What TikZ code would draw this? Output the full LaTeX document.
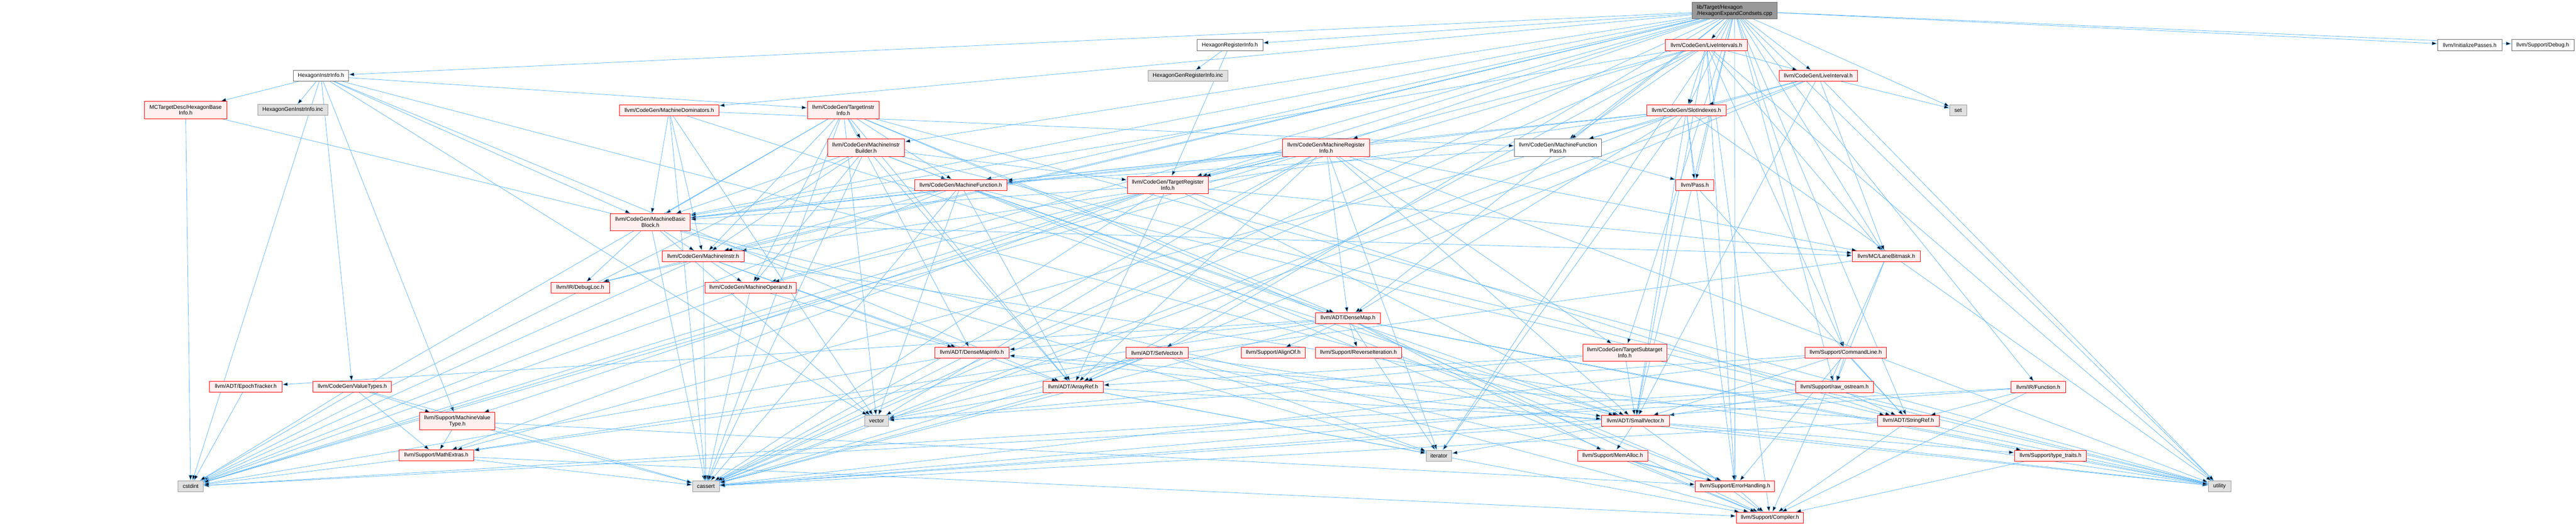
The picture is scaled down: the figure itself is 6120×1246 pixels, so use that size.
\documentclass[tikz,border=0pt]{standalone}
\usepackage{fontspec}
\setmainfont{Liberation Sans}
\usetikzlibrary{arrows.meta}
\definecolor{inclblue}{HTML}{63B8FF}
\definecolor{truncfill}{HTML}{FFF0F0}
\definecolor{sysfill}{HTML}{E0E0E0}
\definecolor{sysline}{HTML}{999999}
\definecolor{rootline}{HTML}{666666}
\pgfdeclarelayer{bg}
\pgfsetlayers{bg,main}
\tikzset{
  hbox/.style={draw, line width=1pt, inner sep=2pt, minimum height=26pt, align=center},
  redbox/.style={hbox, draw=red, fill=truncfill},
  sysbox/.style={hbox, draw=sysline, fill=sysfill},
  whitebox/.style={hbox, draw=rootline, fill=white},
  rootbox/.style={hbox, draw=rootline, fill=sysline, align=left},
  twoline/.style={minimum height=41pt},
  incl/.style={draw=inclblue, line width=1pt, -{Triangle[length=13pt,width=9pt]}}
}

\begin{document}
\begin{tikzpicture}[x=1pt, y=-1pt, font=\fontsize{13}{14.5}\selectfont]
  \useasboundingbox (0,0) rectangle (6120,1246);

  \node[rootbox, minimum width=202pt, minimum height=39pt] (root) at (4121,25.5) {lib/Target/Hexagon\\/HexagonExpandCondsets.cpp};

  \node[whitebox, minimum width=131pt] (hii) at (762.5,180) {HexagonInstrInfo.h};
  \node[redbox, twoline, minimum width=196pt] (hbi) at (441,261) {MCTargetDesc/HexagonBase\\Info.h};
  \node[sysbox, minimum width=167pt] (hgii) at (695.5,261) {HexagonGenInstrInfo.inc};
  \node[sysbox, minimum width=60pt] (cstdint) at (453,1154) {cstdint};
  \node[redbox, minimum width=172pt] (epoch) at (584,918) {llvm/ADT/EpochTracker.h};
  \node[redbox, minimum width=186pt] (vt) at (837,918) {llvm/CodeGen/ValueTypes.h};
  \node[redbox, twoline, minimum width=179pt] (mvt) at (1086.5,999.5) {llvm/Support/MachineValue\\Type.h};
  \node[redbox, minimum width=177pt] (mathx) at (1036.5,1081) {llvm/Support/MathExtras.h};

  \node[redbox, minimum width=236pt] (mdom) at (1590,261.5) {llvm/CodeGen/MachineDominators.h};
  \node[redbox, twoline, minimum width=190pt] (mbb) at (1545,527.5) {llvm/CodeGen/MachineBasic\\Block.h};
  \node[redbox, minimum width=195pt] (mi) at (1670.5,608.5) {llvm/CodeGen/MachineInstr.h};
  \node[redbox, minimum width=139pt] (dloc) at (1378.5,682.5) {llvm/IR/DebugLoc.h};
  \node[redbox, minimum width=217pt] (mop) at (1783.5,682.5) {llvm/CodeGen/MachineOperand.h};
  \node[sysbox, minimum width=64pt] (cassert) at (1677,1154.5) {cassert};

  \node[redbox, twoline, minimum width=171pt] (tii) at (2003.5,261.5) {llvm/CodeGen/TargetInstr\\Info.h};
  \node[redbox, twoline, minimum width=183pt] (mib) at (2057.5,350.5) {llvm/CodeGen/MachineInstr\\Builder.h};
  \node[redbox, minimum width=219pt] (mf) at (2282.5,439) {llvm/CodeGen/MachineFunction.h};
  \node[redbox, minimum width=176pt] (dmi) at (2309,837.5) {llvm/ADT/DenseMapInfo.h};
  \node[redbox, minimum width=143pt] (aref) at (2549.5,918.5) {llvm/ADT/ArrayRef.h};
  \node[sysbox, minimum width=57pt] (vector) at (2082.5,999) {vector};

  \node[whitebox, minimum width=156pt] (hri) at (2922,107) {HexagonRegisterInfo.h};
  \node[sysbox, minimum width=190pt] (hgri) at (2822,180) {HexagonGenRegisterInfo.inc};
  \node[redbox, twoline, minimum width=207pt] (mri) at (3150.5,350.5) {llvm/CodeGen/MachineRegister\\Info.h};
  \node[redbox, twoline, minimum width=193pt] (tri) at (2774.5,439) {llvm/CodeGen/TargetRegister\\Info.h};
  \node[redbox, minimum width=155pt] (dmap) at (3202.5,755.5) {llvm/ADT/DenseMap.h};
  \node[redbox, minimum width=148pt] (setv) at (2749,837.5) {llvm/ADT/SetVector.h};
  \node[redbox, minimum width=152pt] (alignof) at (3025,837.5) {llvm/Support/AlignOf.h};
  \node[redbox, minimum width=205pt] (reviter) at (3227.5,837.5) {llvm/Support/ReverseIteration.h};

  \node[whitebox, twoline, minimum width=207pt] (mfp) at (3701.5,350.5) {llvm/CodeGen/MachineFunction\\Pass.h};
  \node[redbox, twoline, minimum width=200pt] (tsi) at (3860,837) {llvm/CodeGen/TargetSubtarget\\Info.h};
  \node[redbox, minimum width=161pt] (svec) at (3885.5,999) {llvm/ADT/SmallVector.h};
  \node[sysbox, minimum width=61pt] (iterator) at (3418.5,1081.5) {iterator};
  \node[redbox, minimum width=167pt] (memalloc) at (3831.5,1081.5) {llvm/Support/MemAlloc.h};

  \node[redbox, minimum width=194pt] (lis) at (4054,107) {llvm/CodeGen/LiveIntervals.h};
  \node[redbox, minimum width=186pt] (li) at (4320,180) {llvm/CodeGen/LiveInterval.h};
  \node[redbox, minimum width=189pt] (slot) at (4006.5,261.5) {llvm/CodeGen/SlotIndexes.h};
  \node[sysbox, minimum width=40pt] (set) at (4652,261.5) {set};
  \node[redbox, minimum width=91pt] (pass) at (4026.5,439) {llvm/Pass.h};
  \node[redbox, minimum width=161pt] (lane) at (4481.5,608.5) {llvm/MC/LaneBitmask.h};
  \node[redbox, minimum width=194pt] (cl) at (4385,837.5) {llvm/Support/CommandLine.h};
  \node[redbox, minimum width=185pt] (ros) at (4358.5,918.5) {llvm/Support/raw\_ostream.h};
  \node[redbox, minimum width=146pt] (sref) at (4534,999) {llvm/ADT/StringRef.h};
  \node[redbox, minimum width=188pt] (err) at (4122,1154.5) {llvm/Support/ErrorHandling.h};
  \node[redbox, minimum width=160pt] (compiler) at (4205,1228.5) {llvm/Support/Compiler.h};

  \node[redbox, minimum width=129pt] (func) at (4842.5,918.5) {llvm/IR/Function.h};
  \node[redbox, minimum width=171pt] (ttraits) at (4871.5,1081.5) {llvm/Support/type\_traits.h};
  \node[sysbox, minimum width=54pt] (utility) at (5273,1154.5) {utility};
  \node[whitebox, minimum width=153pt] (initp) at (5867.5,107) {llvm/InitializePasses.h};
  \node[whitebox, minimum width=148pt] (debug) at (6041,107) {llvm/Support/Debug.h};

  \begin{pgfonlayer}{bg}
  \path[incl] (root) edge (hii) edge (hri) edge (dmap) edge (setv) edge (svec) edge (sref)
    edge (li) edge (lis) edge (mbb) edge (mdom) edge (mf) edge (mfp) edge (mi) edge (mib)
    edge (mop) edge (mri) edge (slot) edge (tri) edge (tsi) edge (dloc) edge (func)
    edge (initp) edge (lane) edge (pass) edge (cl) edge (debug) edge (err) edge (ros)
    edge (cassert) edge (iterator) edge (set) edge (utility);
  \path[incl] (hii) edge (hbi) edge (hgii) edge (aref) edge (svec) edge (mbb) edge (mvt)
    edge (tii) edge (vt) edge (cstdint) edge (vector);
  \path[incl] (hbi) edge (err) edge (cstdint);
  \path[incl] (hri) edge (tri) edge (hgri);
  \path[incl] (lis) edge (aref) edge (svec) edge (li) edge (mbb) edge (mfp) edge (slot)
    edge (tri) edge (lane) edge (cl) edge (compiler) edge (err) edge (cassert)
    edge (cstdint) edge (utility);
  \path[incl] (li) edge (aref) edge (svec) edge (slot) edge (lane) edge (mathx)
    edge (cassert) edge (set) edge (utility);
  \path[incl] (slot) edge (dmap) edge (svec) edge (mbb) edge (mf) edge (mfp) edge (mi)
    edge (pass) edge (err) edge (cassert) edge (iterator) edge (utility);
  \path[incl] (mfp) edge (mf) edge (pass);
  \path[incl] (mf) edge (aref) edge (dmap) edge (svec) edge (mbb) edge (mi) edge (compiler)
    edge (cassert) edge (cstdint) edge (utility) edge (vector);
  \path[incl] (mbb) edge (mi) edge (dloc) edge (lane) edge (cassert) edge (iterator)
    edge (vector);
  \path[incl] (mi) edge (dmi) edge (mop) edge (dloc) edge (aref) edge (cassert)
    edge (cstdint) edge (utility);
  \path[incl] (mop) edge (dmi) edge (cassert) edge (cstdint);
  \path[incl] (mdom) edge (mbb) edge (mfp) edge (mi) edge (svec) edge (cassert)
    edge (vector);
  \path[incl] (mib) edge (aref) edge (mbb) edge (mf) edge (mi) edge (mop) edge (tri)
    edge (err) edge (cassert) edge (cstdint) edge (utility);
  \path[incl] (tii) edge (aref) edge (dmap) edge (dmi) edge (mbb) edge (mf) edge (mi)
    edge (mib) edge (mop) edge (err) edge (cassert) edge (cstdint) edge (utility)
    edge (vector);
  \path[incl] (mri) edge (aref) edge (svec) edge (dmap) edge (mbb) edge (mf) edge (mop)
    edge (tri) edge (tsi) edge (lane) edge (cassert) edge (cstdint) edge (iterator)
    edge (utility) edge (vector);
  \path[incl] (tri) edge (aref) edge (svec) edge (sref) edge (mbb) edge (lane)
    edge (mathx) edge (mvt) edge (cassert) edge (cstdint);
  \path[incl] (tsi) edge (aref) edge (svec) edge (sref) edge (vector);
  \path[incl] (dmap) edge (dmi) edge (epoch) edge (alignof) edge (compiler) edge (mathx)
    edge (memalloc) edge (reviter) edge (ttraits) edge (cassert) edge (iterator)
    edge (utility);
  \path[incl] (dmi) edge (cassert) edge (cstdint) edge (utility);
  \path[incl] (setv) edge (aref) edge (svec) edge (compiler) edge (cassert)
    edge (iterator) edge (vector);
  \path[incl] (aref) edge (svec) edge (compiler) edge (cassert) edge (iterator)
    edge (vector);
  \path[incl] (svec) edge (compiler) edge (memalloc) edge (ttraits) edge (cassert)
    edge (iterator) edge (utility);
  \path[incl] (memalloc) edge (compiler) edge (err);
  \path[incl] (err) edge (compiler);
  \path[incl] (sref) edge (dmi) edge (compiler) edge (cassert) edge (utility);
  \path[incl] (ros) edge (svec) edge (sref) edge (cassert) edge (cstdint);
  \path[incl] (cl) edge (svec) edge (sref) edge (err) edge (ros) edge (cassert)
    edge (vector);
  \path[incl] (lane) edge (compiler) edge (mathx) edge (ros);
  \path[incl] (pass) edge (sref);
  \path[incl] (func) edge (sref) edge (compiler) edge (cassert) edge (cstdint);
  \path[incl] (vt) edge (mvt) edge (mathx) edge (cassert) edge (cstdint);
  \path[incl] (mvt) edge (err) edge (mathx) edge (cassert);
  \path[incl] (mathx) edge (compiler) edge (cassert) edge (cstdint);
  \path[incl] (epoch) edge (cstdint);
  \path[incl] (ttraits) edge (compiler) edge (utility);
  \end{pgfonlayer}
\end{tikzpicture}
\end{document}
